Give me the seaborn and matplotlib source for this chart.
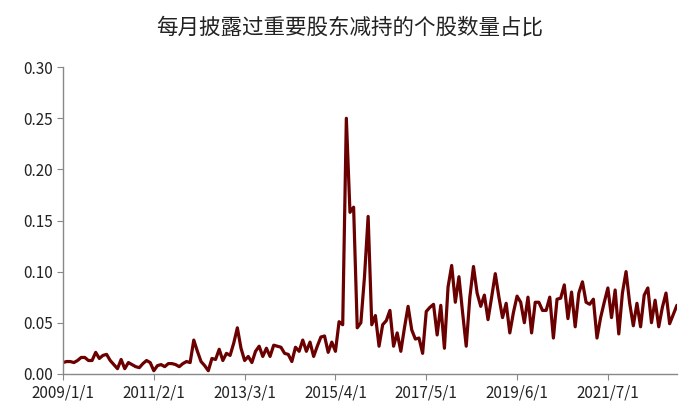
import matplotlib
matplotlib.use('Agg')
import matplotlib.pyplot as plt
import pandas as pd
import seaborn as sns

# Monthly share of stocks that disclosed major-shareholder reductions
seg_2009_2011 = [0.011, 0.012, 0.012, 0.011, 0.013, 0.016, 0.016, 0.013, 0.013, 0.021,
                 0.015, 0.018, 0.019, 0.013, 0.009, 0.005, 0.014, 0.005, 0.011, 0.009,
                 0.007, 0.006, 0.010, 0.013, 0.011, 0.003]
seg_2011_2013 = [0.008, 0.009, 0.007, 0.010, 0.010, 0.009, 0.007, 0.010, 0.012, 0.011,
                 0.033, 0.022, 0.012, 0.008, 0.003, 0.015, 0.014, 0.024, 0.013, 0.020,
                 0.018, 0.030, 0.045, 0.025, 0.013]
seg_2013_2016 = [0.017, 0.011, 0.022, 0.027, 0.017, 0.025, 0.017, 0.028, 0.027, 0.026,
                 0.020, 0.019, 0.012, 0.026, 0.022, 0.033, 0.022, 0.031, 0.017, 0.027,
                 0.036, 0.037, 0.021, 0.031, 0.022, 0.051, 0.048, 0.250, 0.158, 0.163,
                 0.045, 0.050, 0.095, 0.154]
seg_2016_2018 = [0.048, 0.057, 0.027, 0.048, 0.052, 0.062, 0.027, 0.040, 0.022, 0.045,
                 0.066, 0.043, 0.034, 0.035, 0.020, 0.061, 0.065, 0.068, 0.038, 0.067,
                 0.025, 0.085, 0.106, 0.070, 0.095, 0.060, 0.027]
seg_2018_2020 = [0.075, 0.105, 0.079, 0.066, 0.077, 0.053, 0.075, 0.098, 0.075, 0.055,
                 0.069, 0.040, 0.060, 0.076, 0.070, 0.050, 0.075, 0.040, 0.070, 0.070,
                 0.062, 0.062, 0.075, 0.035, 0.073, 0.074, 0.087, 0.054, 0.080, 0.046]
seg_2020_2023 = [0.079, 0.090, 0.070, 0.068, 0.073, 0.035, 0.055, 0.070, 0.084, 0.055,
                 0.082, 0.039, 0.079, 0.100, 0.069, 0.047, 0.069, 0.046, 0.077, 0.084,
                 0.050, 0.072, 0.046, 0.065, 0.079, 0.049, 0.058, 0.067]

values = seg_2009_2011 + seg_2011_2013 + seg_2013_2016 + seg_2016_2018 + seg_2018_2020 + seg_2020_2023
dates = pd.date_range('2009-01-01', periods=len(values), freq='MS')
df = pd.DataFrame({'idx': range(len(values)), 'date': dates, 'value': values})

tick_idx = list(range(0, len(values), 25))
tick_labels = [f"{d.year}/{d.month}/1" for d in dates[tick_idx]]

sns.set_style('white')
plt.rcParams['font.family'] = ['Noto Sans CJK SC', 'DejaVu Sans']

fig = plt.figure(figsize=(7, 4.2), dpi=100)
ax = fig.add_axes([0.09, 0.11, 0.877, 0.73])
sns.lineplot(x='idx', y='value', data=df, ax=ax, color='#6b0000', linewidth=2.3)

ax.set_xlim(0, len(values) - 1)
ax.set_ylim(0, 0.30)
ax.set_yticks([0, 0.05, 0.10, 0.15, 0.20, 0.25, 0.30])
ax.set_yticklabels([f"{v:.2f}" for v in ax.get_yticks()])
ax.set_xticks(tick_idx)
ax.set_xticklabels(tick_labels)
ax.set_xlabel('')
ax.set_ylabel('')

for side in ['top', 'right']:
    ax.spines[side].set_visible(False)
for side in ['left', 'bottom']:
    ax.spines[side].set_color('#888888')
    ax.spines[side].set_linewidth(1)
ax.tick_params(axis='both', direction='out', length=4, color='#888888',
               labelsize=11, labelcolor='#222222', left=True, bottom=True)

fig.suptitle('每月披露过重要股东减持的个股数量占比', fontsize=15.5, y=0.96, color='#222222')

fig.savefig('out.png', dpi=100)
